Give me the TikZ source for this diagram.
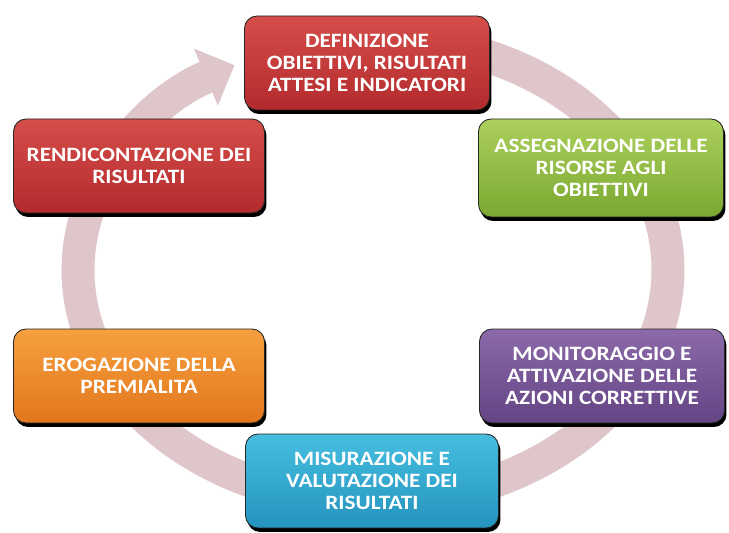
\documentclass[tikz,border=0pt]{standalone}
\usepackage{fontspec}
\setmainfont{Carlito}[FakeStretch=1.14]
\usepackage{tikz}
\usetikzlibrary{arrows.meta, shadows, positioning}

\definecolor{ringpink}{RGB}{222,198,202}
\definecolor{redtop}{RGB}{214,78,74}
\definecolor{redbot}{RGB}{178,42,44}
\definecolor{greentop}{RGB}{172,208,92}
\definecolor{greenbot}{RGB}{122,168,48}
\definecolor{orangetop}{RGB}{246,160,64}
\definecolor{orangebot}{RGB}{226,118,28}
\definecolor{purpletop}{RGB}{140,106,170}
\definecolor{purplebot}{RGB}{100,68,132}
\definecolor{cyantop}{RGB}{70,190,224}
\definecolor{cyanbot}{RGB}{36,148,190}

\begin{document}
\begin{tikzpicture}[x=0.02cm, y=0.02cm,
  phase/.style={rectangle, rounded corners=0.25cm, draw=black!85, line width=0.5pt,
    minimum width=4.9cm, minimum height=1.88cm, align=center, text=white,
    font=\fontsize{11.6}{12.4}\selectfont\bfseries,
    general shadow={fill=black, shadow xshift=0.04cm, shadow yshift=-0.08cm}},
  ring/.style={line width=0.66cm, draw=ringpink, -{Triangle[width=1.2cm, length=0.62cm]}}]
\useasboundingbox (0,0) rectangle (729,533);
\coordinate (CENTRE) at (373,263);
% ring behind the boxes
\draw[ring] (CENTRE) ++(80:5.9cm and 4.64cm) arc[start angle=80, end angle=-242, x radius=5.9cm, y radius=4.64cm];
\node[phase, top color=redtop, bottom color=redbot]       (DEFIN)  at (367,470) {DEFINIZIONE\\OBIETTIVI, RISULTATI\\ATTESI E INDICATORI};
\node[phase, top color=greentop, bottom color=greenbot, minimum height=1.96cm] (ASSEGN) at (601,365) {ASSEGNAZIONE DELLE\\RISORSE AGLI\\OBIETTIVI};
\node[phase, top color=purpletop, bottom color=purplebot] (MONIT)  at (602,157) {MONITORAGGIO E\\ATTIVAZIONE DELLE\\AZIONI CORRETTIVE};
\node[phase, top color=cyantop, bottom color=cyanbot, minimum width=5.06cm] (MISUR) at (372,52) {MISURAZIONE E\\VALUTAZIONE DEI\\RISULTATI};
\node[phase, top color=orangetop, bottom color=orangebot, minimum width=5.02cm] (EROG) at (139,157) {EROGAZIONE DELLA\\PREMIALITA};
\node[phase, top color=redtop, bottom color=redbot, minimum width=5.02cm] (RENDIC) at (139,367) {RENDICONTAZIONE DEI\\RISULTATI};
\end{tikzpicture}
\end{document}
